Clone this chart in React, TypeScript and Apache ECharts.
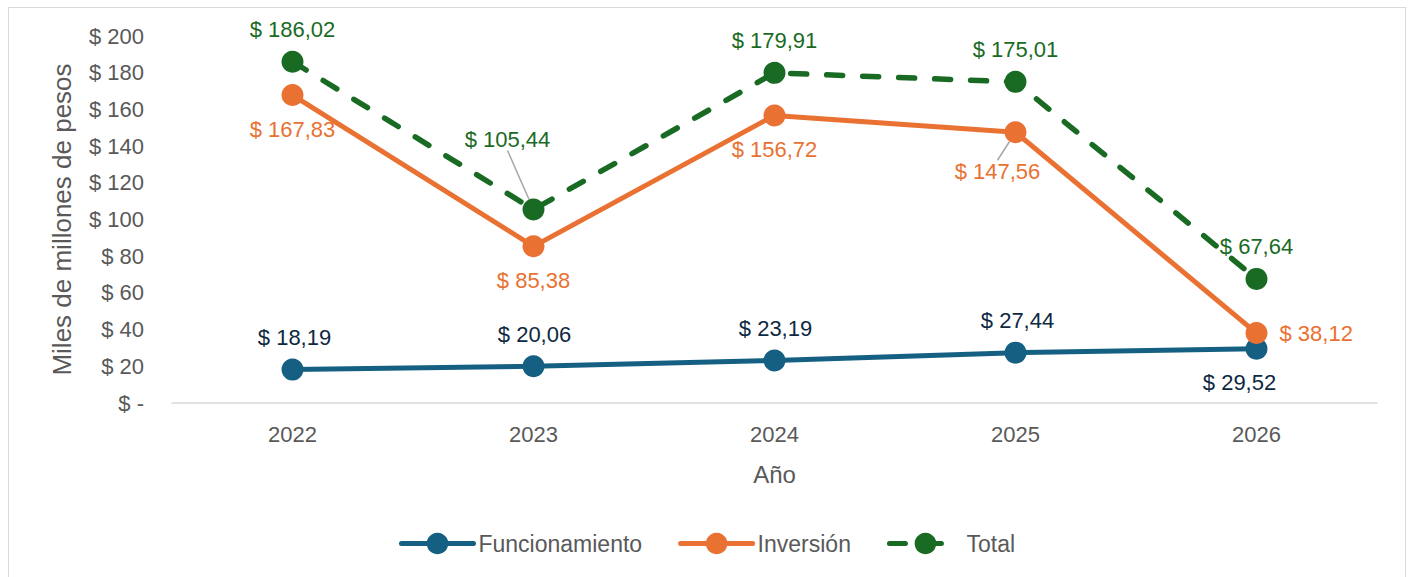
import React, { useEffect, useRef } from "react";
import * as echarts from "echarts";

const years = ["2022", "2023", "2024", "2025", "2026"];
const funcionamiento = [18.19, 20.06, 23.19, 27.44, 29.52];
const inversion = [167.83, 85.38, 156.72, 147.56, 38.12];
const total = [186.02, 105.44, 179.91, 175.01, 67.64];
const seriesNames = ["Funcionamiento", "Inversión", "Total"];

// label placement
const funcPos = ["top", "top", "top", "top", "bottom"];
const invPos = ["bottom", "bottom", "bottom", "bottom", "right"];
const totPos = ["top", "top", "top", "top", "top"];
const funcOffsetX = [2, 1, 1, 2, -17];
const invOffsetX = [5, 3, 2, 0, 0];
const totOffsetX = [5, 0, 3, 2, 3];
const invMoved: Record<number, [number, number]> = { 3: [-18, 5] };
const totMoved: Record<number, [number, number]> = { 1: [-26, -38] };
const posDistance: Record<string, number> = { top: 10, bottom: 12, right: 12 };

const FONT = "'Liberation Sans', Arial, sans-serif";
const fmt = (v: number) => "$ " + v.toFixed(2).replace(".", ",");

function buildData(vals: number[], pos: string[], offX: number[], moved: Record<number, [number, number]>) {
  return vals.map((v, i) => ({
    value: v,
    label: { position: pos[i], offset: [offX[i], 0], distance: posDistance[pos[i]] },
    labelLine: moved[i]
      ? { show: true, lineStyle: { color: "#a6a6a6", width: 1.5 } }
      : { show: false },
  }));
}

export default function App() {
  const ref = useRef<HTMLDivElement>(null);
  useEffect(() => {
    if (!ref.current) return;
    const chart = echarts.init(ref.current, null, { renderer: "svg" });
    const labelBase = (color: string) => ({
      show: true,
      formatter: (p: any) => fmt(p.value),
      fontSize: 22,
      fontFamily: FONT,
      color,
    });
    chart.setOption({
      animation: false,
      textStyle: { fontFamily: FONT },
      grid: { left: 163, right: 28, top: 28, bottom: 174 },
      legend: {
        data: seriesNames,
        left: "center",
        top: 519,
        itemWidth: 72,
        itemHeight: 27,
        itemGap: 36,
        lineStyle: { width: 5, cap: "round" },
        textStyle: { fontSize: 23, color: "#595959", fontFamily: FONT },
      },
      xAxis: {
        type: "category",
        data: years,
        boundaryGap: true,
        axisTick: { show: false },
        axisLine: { lineStyle: { color: "#d9d9d9", width: 1.5 } },
        axisLabel: { fontSize: 22, color: "#595959", margin: 20, fontFamily: FONT },
        name: "Año",
        nameLocation: "middle",
        nameGap: 59,
        nameTextStyle: { fontSize: 24, color: "#595959", fontFamily: FONT },
      },
      yAxis: {
        type: "value",
        min: 0,
        max: 200,
        interval: 20,
        splitLine: { show: false },
        axisLine: { show: false },
        axisTick: { show: false },
        axisLabel: {
          fontSize: 22,
          color: "#595959",
          margin: 28,
          fontFamily: FONT,
          formatter: (v: number) => (v === 0 ? "$ -" : "$ " + v),
        },
        name: "Miles de millones de pesos",
        nameLocation: "middle",
        nameGap: 97,
        nameTextStyle: { fontSize: 26, color: "#595959", fontFamily: FONT },
      },
      series: [
        {
          name: seriesNames[0],
          type: "line",
          data: buildData(funcionamiento, funcPos, funcOffsetX, {}),
          symbol: "circle",
          symbolSize: 22,
          itemStyle: { color: "#156082" },
          lineStyle: { color: "#156082", width: 5 },
          label: labelBase("#0E2841"),
        },
        {
          name: seriesNames[1],
          type: "line",
          data: buildData(inversion, invPos, invOffsetX, invMoved),
          symbol: "circle",
          symbolSize: 22,
          itemStyle: { color: "#E97132" },
          lineStyle: { color: "#E97132", width: 5 },
          label: labelBase("#E97132"),
          labelLayout: (p: any) => {
            const m = invMoved[p.dataIndex];
            return m ? { dx: m[0], dy: m[1] } : {};
          },
        },
        {
          name: seriesNames[2],
          type: "line",
          data: buildData(total, totPos, totOffsetX, totMoved),
          symbol: "circle",
          symbolSize: 22,
          itemStyle: { color: "#196B24" },
          lineStyle: { color: "#196B24", width: 5.5, type: [16, 20], cap: "round" },
          label: labelBase("#196B24"),
          labelLayout: (p: any) => {
            const m = totMoved[p.dataIndex];
            return m ? { dx: m[0], dy: m[1] } : {};
          },
        },
      ],
    });
    return () => chart.dispose();
  }, []);
  return (
    <div
      style={{
        position: "fixed",
        left: 8,
        top: 7,
        width: 1398,
        height: 570,
        boxSizing: "border-box",
        border: "1px solid #d9d9d9",
        borderBottom: "none",
        background: "#fff",
      }}
    >
      <div ref={ref} style={{ width: 1396, height: 569 }} />
    </div>
  );
}
